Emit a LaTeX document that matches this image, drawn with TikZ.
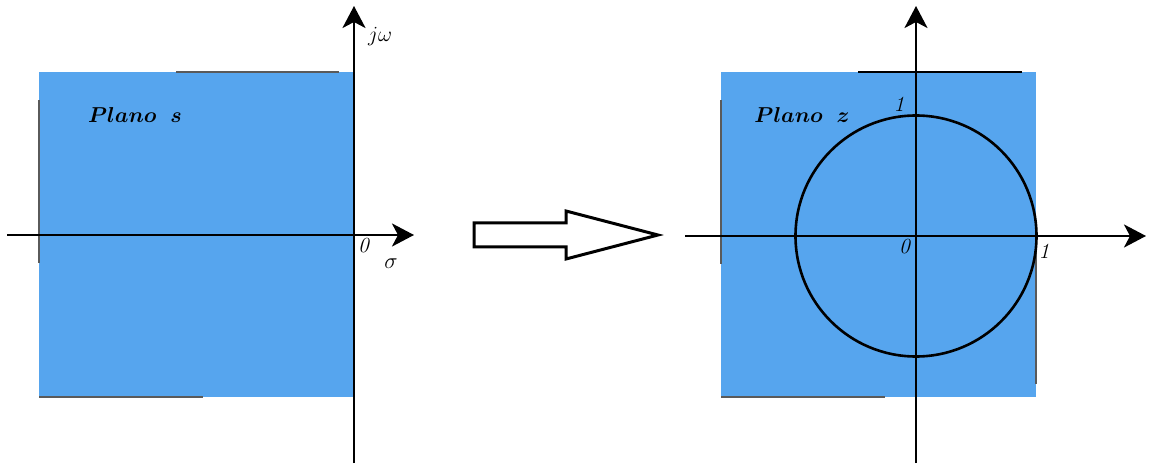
\documentclass[tikz,border=0pt]{standalone}
\usepackage{graphicx}
\usetikzlibrary{arrows.meta}
\definecolor{planeblue}{RGB}{86,165,238}
\definecolor{edgegray}{RGB}{90,90,90}
\begin{document}
\begin{tikzpicture}[x=1pt,y=-1pt,
  plane/.style={fill=planeblue,draw=none},
  edge/.style={draw=edgegray,line width=1.6pt},
  axis/.style={line width=2.6pt,-{Stealth[length=22pt,width=23pt,inset=6pt]}},
  lbl/.style={inner sep=0pt,font=\fontsize{17.28}{20}\selectfont},
  title/.style={inner sep=0pt,font=\fontsize{20.74}{24}\selectfont\boldmath},
  hollow/.style={draw=black,line width=3pt,fill=white,line join=miter}]
\useasboundingbox (0,0) rectangle (1149,465);
% left plane
\fill[plane] (39,72) rectangle (354,397);
\draw[edge] (176,72) -- (339,72);
\draw[edge] (39,100) -- (39,263);
\draw[edge] (39,397) -- (203,397);
% right plane
\fill[plane] (721,72) rectangle (1036,397);
\draw[edge,draw=black] (858,72) -- (1022,72);
\draw[edge] (721,100) -- (721,264);
\draw[edge] (721,397) -- (885,397);
\draw[edge] (1036,250) -- (1036,384);
% left axes
\coordinate (sx0) at (7,235);
\coordinate (sx1) at (414,235);
\coordinate (sy0) at (354,463);
\coordinate (sy1) at (354,6);
\draw[axis] (sx0) -- (sx1);
\draw[axis] (sy0) -- (sy1);
\node[lbl] (jw) at (380,37) {\scalebox{1.25}{$j\omega$}};
\node[lbl] (sig) at (391,264) {\scalebox{1.3}{$\sigma$}};
\node[lbl] (s0) at (364,246) {\scalebox{1.25}{\textit{0}}};
\node[title] (ps) at (135,115) {\scalebox{1.04}{$Plano\;\;s$}};
% transform arrow
\draw[hollow] (474,223) -- (566,223) -- (566,211) -- (658,235) -- (566,259) -- (566,247) -- (474,247) -- cycle;
% right axes
\coordinate (zx0) at (685,236);
\coordinate (zx1) at (1146,236);
\coordinate (zy0) at (916,463);
\coordinate (zy1) at (916,6);
\draw[axis] (zx0) -- (zx1);
\draw[axis] (zy0) -- (zy1);
\node[circle,draw=black,line width=2.6pt,minimum size=241pt,inner sep=0pt] (uc) at (916,236) {};
\node[title] (pz) at (802,115) {\scalebox{1.04}{$Plano\;\;z$}};
\node[lbl] (one1) at (899,104) {\scalebox{1.25}{\textit{1}}};
\node[lbl] (z0) at (905,247) {\scalebox{1.25}{\textit{0}}};
\node[lbl] (one2) at (1044,251) {\scalebox{1.25}{\textit{1}}};
\end{tikzpicture}
\end{document}
